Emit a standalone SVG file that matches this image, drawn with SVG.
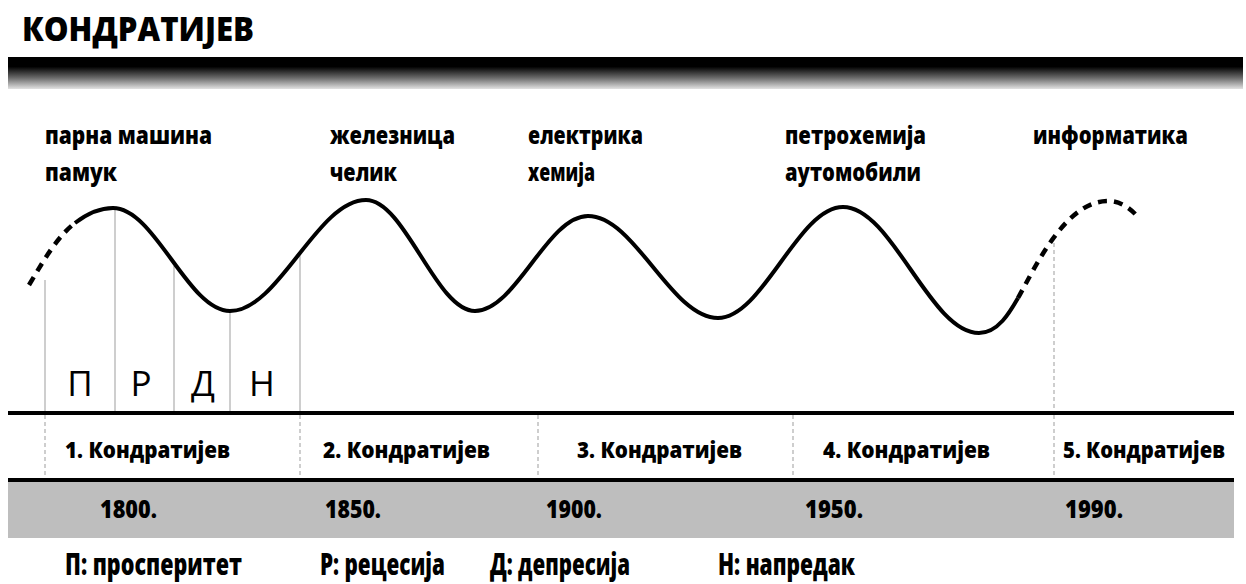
<svg xmlns="http://www.w3.org/2000/svg" width="1246" height="584" viewBox="0 0 1246 584">
<defs>
<linearGradient id="barGrad" x1="0" y1="0" x2="0" y2="1">
<stop offset="0" stop-color="#000"/>
<stop offset="0.3" stop-color="#000"/>
<stop offset="0.65" stop-color="#6a6a6a"/>
<stop offset="1" stop-color="#e2e2e2"/>
</linearGradient>
<style>
.t{font-family:"Open Sans","Liberation Sans",sans-serif;font-weight:800;fill:#000}
.lbl{font-size:24px}
.k{font-size:23px}
.yr{font-size:25px}
.lg{font-size:30px}
.ph{font-family:"Open Sans","Liberation Sans",sans-serif;font-weight:400;font-size:35px;fill:#000;text-anchor:middle}
.grid{stroke:#b4b4b4;stroke-width:1.3;fill:none}
.dgrid{stroke:#b4b4b4;stroke-width:1.3;fill:none;stroke-dasharray:4 3}
.wave{stroke:#000;stroke-width:4;fill:none;stroke-linecap:butt}
.wdash{stroke:#000;stroke-width:4.5;fill:none;stroke-dasharray:9 7}
</style>
</defs>
<rect width="1246" height="584" fill="#fff"/>

<g id="title">
<text class="t" x="22" y="41" font-size="33" font-weight="700" textLength="232" lengthAdjust="spacingAndGlyphs">КОНДРАТИЈЕВ</text>
</g>
<g id="header-bar">
<rect x="8" y="57" width="1235" height="32" fill="url(#barGrad)"/>
</g>

<g id="gridlines">
<line class="grid" x1="45" y1="280" x2="45" y2="413"/>
<line class="grid" x1="115" y1="210" x2="115" y2="413"/>
<line class="grid" x1="174" y1="266" x2="174" y2="413"/>
<line class="grid" x1="230" y1="313" x2="230" y2="413"/>
<line class="grid" x1="300" y1="255" x2="300" y2="413"/>
<line class="dgrid" x1="1054" y1="243" x2="1054" y2="413"/>
<line class="dgrid" x1="45" y1="415" x2="45" y2="478"/>
<line class="dgrid" x1="300" y1="415" x2="300" y2="478"/>
<line class="dgrid" x1="538" y1="415" x2="538" y2="478"/>
<line class="dgrid" x1="793" y1="415" x2="793" y2="478"/>
<line class="dgrid" x1="1054" y1="415" x2="1054" y2="478"/>
</g>

<g id="connectors">
<path class="wdash" d="M29,285 C45,258 58,236 75,223"/>
<path class="wave" d="M75,223 C88,213 100,208 113,208 C155,208 188,311 230,311 C279,311 317,200 366,200 C405,200 436,311 475,311 C516,311 547,216 588,216 C635,216 671,318 718,318 C763,318 798,207 843,207 C892,207 930,333 979,333 C998,333 1010,312 1018,298"/>
<path class="wdash" d="M1018,298 C1035,268 1065,201 1108,201 C1120,201 1130,208 1137,216"/>
</g>

<g id="phase-letters">
<text class="ph" x="80" y="396">П</text>
<text class="ph" x="141" y="396">Р</text>
<text class="ph" x="203" y="396">Д</text>
<text class="ph" x="262" y="396">Н</text>
</g>

<g id="wave-labels">
<g id="label1"><text class="t lbl" x="45" y="144" textLength="167" lengthAdjust="spacingAndGlyphs">парна машина</text><text class="t lbl" x="45" y="181" textLength="72" lengthAdjust="spacingAndGlyphs">памук</text></g>
<g id="label2"><text class="t lbl" x="330" y="144" textLength="125" lengthAdjust="spacingAndGlyphs">железница</text><text class="t lbl" x="330" y="181" textLength="67" lengthAdjust="spacingAndGlyphs">челик</text></g>
<g id="label3"><text class="t lbl" x="528" y="144" textLength="115" lengthAdjust="spacingAndGlyphs">електрика</text><text class="t lbl" x="528" y="181" textLength="67" lengthAdjust="spacingAndGlyphs">хемија</text></g>
<g id="label4"><text class="t lbl" x="785" y="144" textLength="141" lengthAdjust="spacingAndGlyphs">петрохемија</text><text class="t lbl" x="785" y="181" textLength="136" lengthAdjust="spacingAndGlyphs">аутомобили</text></g>
<g id="label5"><text class="t lbl" x="1033" y="144" textLength="155" lengthAdjust="spacingAndGlyphs">информатика</text></g>
</g>

<g id="axis">
<rect x="8" y="411" width="1226" height="4" fill="#000"/>
<rect x="8" y="482" width="1226" height="56" fill="#bebebe"/>
<rect x="8" y="478" width="1226" height="4" fill="#000"/>
</g>

<g id="cycles">
<text class="t k" x="65" y="458" textLength="165" lengthAdjust="spacingAndGlyphs">1. Кондратијев</text>
<text class="t k" x="323" y="458" textLength="167" lengthAdjust="spacingAndGlyphs">2. Кондратијев</text>
<text class="t k" x="577" y="458" textLength="165" lengthAdjust="spacingAndGlyphs">3. Кондратијев</text>
<text class="t k" x="823" y="458" textLength="167" lengthAdjust="spacingAndGlyphs">4. Кондратијев</text>
<text class="t k" x="1063" y="458" textLength="162" lengthAdjust="spacingAndGlyphs">5. Кондратијев</text>
</g>

<g id="years">
<text class="t yr" x="100" y="518" textLength="57" lengthAdjust="spacingAndGlyphs">1800.</text>
<text class="t yr" x="325" y="518" textLength="56" lengthAdjust="spacingAndGlyphs">1850.</text>
<text class="t yr" x="546" y="518" textLength="56" lengthAdjust="spacingAndGlyphs">1900.</text>
<text class="t yr" x="805" y="518" textLength="58" lengthAdjust="spacingAndGlyphs">1950.</text>
<text class="t yr" x="1065" y="518" textLength="58" lengthAdjust="spacingAndGlyphs">1990.</text>
</g>

<g id="legend">
<text class="t lg" x="65" y="575" textLength="177" lengthAdjust="spacingAndGlyphs">П: просперитет</text>
<text class="t lg" x="320" y="575" textLength="125" lengthAdjust="spacingAndGlyphs">Р: рецесија</text>
<text class="t lg" x="490" y="575" textLength="140" lengthAdjust="spacingAndGlyphs">Д: депресија</text>
<text class="t lg" x="718" y="575" textLength="137" lengthAdjust="spacingAndGlyphs">Н: напредак</text>
</g>
</svg>
